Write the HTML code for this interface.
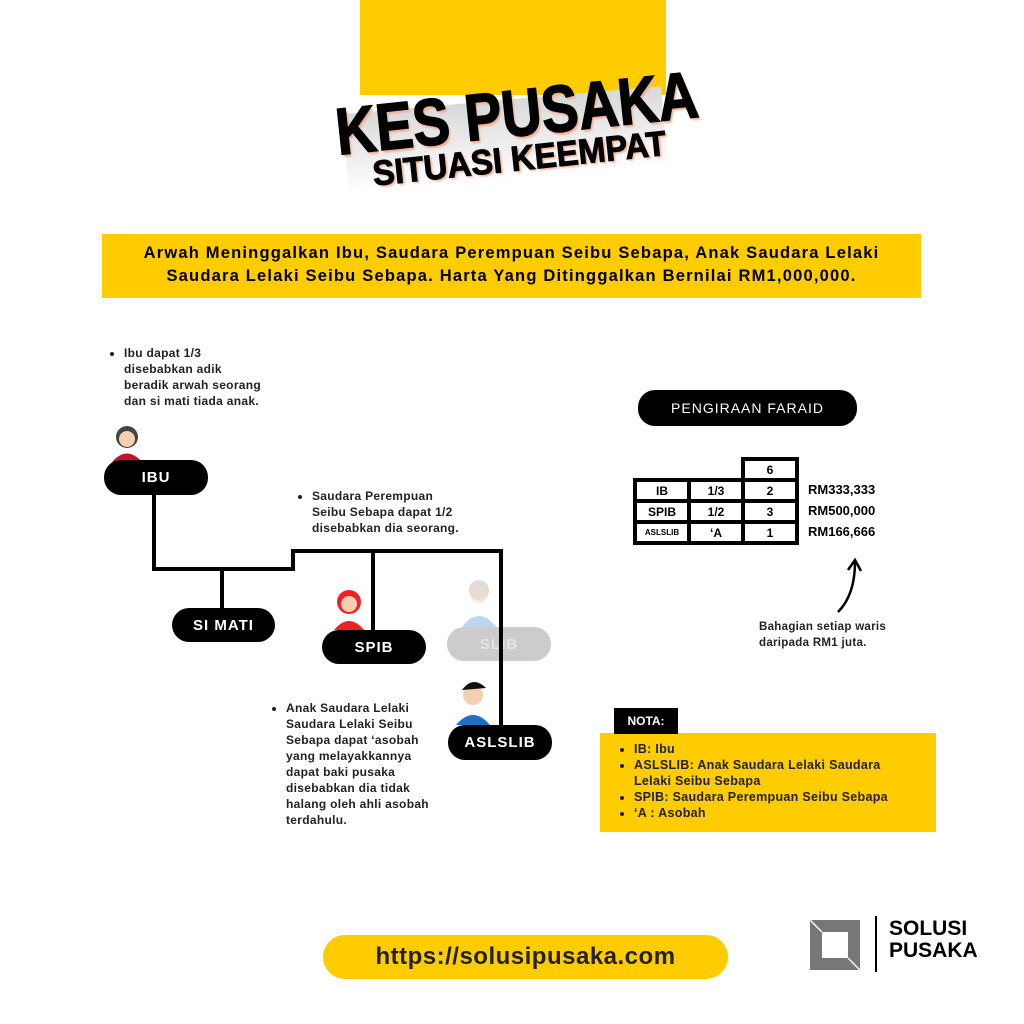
<!DOCTYPE html>
<html><head><meta charset="utf-8"><style>
body{margin:0;width:1024px;height:1024px;background:#fff;position:relative;overflow:hidden;font-family:"Liberation Sans",sans-serif;}
.a{position:absolute}
.pill{position:absolute;background:#000;color:#fff;border-radius:17px;font-weight:bold;font-size:15px;display:flex;align-items:center;justify-content:center;letter-spacing:1px}
.note{position:absolute;font-size:12px;font-weight:bold;line-height:16px;color:#222;white-space:nowrap;letter-spacing:0.3px}
.note ul{margin:0;padding-left:14px}
.cell{position:absolute;background:#fff;border:2px solid #000;box-sizing:border-box;font-size:12px;font-weight:bold;display:flex;align-items:center;justify-content:center}
.amt{position:absolute;font-size:13px;font-weight:bold;left:808px}
</style></head><body>
<div class="a" style="left:360px;top:0;width:306px;height:95px;background:#ffcc00"></div>
<div class="a" style="left:345px;top:100px;width:320px;height:80px;background:linear-gradient(#d8d8d8,#fff);transform:rotate(-5deg)"></div>
<div class="a" style="left:335px;top:76px;width:360px;height:74px;transform:rotate(-6deg);white-space:nowrap;font-weight:900;font-size:66px;line-height:74px;text-shadow:2px 3px 2px #f0b090;-webkit-text-stroke:1.5px #000"><span style="display:inline-block;transform:scaleX(0.84);transform-origin:left">KES PUSAKA</span></div>
<div class="a" style="left:372px;top:138px;width:300px;transform:rotate(-6deg);white-space:nowrap;font-weight:900;font-size:35px;line-height:42px;text-shadow:2px 2px 2px #f0b090;-webkit-text-stroke:1px #000"><span style="display:inline-block;transform:scaleX(0.94);transform-origin:left">SITUASI KEEMPAT</span></div>
<div class="a" style="left:102px;top:234px;width:819px;height:64px;background:#ffcc00;text-align:center;font-weight:bold;font-size:16.5px;line-height:23px;padding-top:8px;box-sizing:border-box;letter-spacing:1.2px;white-space:nowrap">Arwah Meninggalkan Ibu, Saudara Perempuan Seibu Sebapa, Anak Saudara Lelaki<br>Saudara Lelaki Seibu Sebapa. Harta Yang Ditinggalkan Bernilai RM1,000,000.</div>
<div class="note" style="left:110px;top:345px"><ul><li>Ibu dapat 1/3<br>disebabkan adik<br>beradik arwah seorang<br>dan si mati tiada anak.</li></ul></div>
<div class="note" style="left:298px;top:488px"><ul><li>Saudara Perempuan<br>Seibu Sebapa dapat 1/2<br>disebabkan dia seorang.</li></ul></div>
<div class="note" style="left:272px;top:700px"><ul><li>Anak Saudara Lelaki<br>Saudara Lelaki Seibu<br>Sebapa dapat ‘asobah<br>yang melayakkannya<br>dapat baki pusaka<br>disebabkan dia tidak<br>halang oleh ahli asobah<br>terdahulu.</li></ul></div>
<svg class="a" style="left:0;top:0" width="1024" height="1024">
<polyline points="154,495 154,569 293,569 293,551 501,551 501,725" fill="none" stroke="#000" stroke-width="4"/>
<line x1="222" y1="569" x2="222" y2="608" stroke="#000" stroke-width="4"/>
<line x1="373" y1="551" x2="373" y2="630" stroke="#000" stroke-width="4"/>
<circle cx="127" cy="437" r="11" fill="#444"/><circle cx="127" cy="439" r="8" fill="#f5d0b0"/><path d="M112 462 Q127 445 142 462Z" fill="#c8102e"/>
<circle cx="349" cy="602" r="12" fill="#e22"/><circle cx="349" cy="604" r="8" fill="#f5d0b0"/><path d="M334 630 Q349 612 364 630Z" fill="#e22"/>
<circle cx="479" cy="590" r="10" fill="#ddd"/><circle cx="479" cy="594" r="9" fill="#f5dcc8" opacity=".6"/><path d="M462 627 Q479 605 496 627Z" fill="#bcd6ee"/>
<circle cx="473" cy="695" r="10" fill="#f5d0b0"/><path d="M462 690 Q473 675 486 688Z" fill="#111"/><path d="M456 725 Q473 705 490 725Z" fill="#1f6fc4"/>
<path d="M838 612 Q855 595 855 562" fill="none" stroke="#000" stroke-width="2.5"/><path d="M848 570 L855 560 L861 571" fill="none" stroke="#000" stroke-width="2.5"/>
</svg>
<div class="pill" style="left:104px;top:460px;width:104px;height:35px">IBU</div>
<div class="pill" style="left:172px;top:608px;width:103px;height:34px">SI MATI</div>
<div class="pill" style="left:322px;top:630px;width:104px;height:34px">SPIB</div>
<div class="pill" style="left:447px;top:627px;width:104px;height:34px;background:#ccc;color:#e4e4e4">SLIB</div>
<div class="a" style="left:499px;top:627px;width:4px;height:34px;background:#000"></div>
<div class="pill" style="left:448px;top:725px;width:104px;height:35px">ASLSLIB</div>
<div class="pill" style="left:638px;top:390px;width:219px;height:36px;font-weight:normal;font-size:14px">PENGIRAAN FARAID</div>
<div class="a" style="left:633px;top:478px;width:166px;height:67px;background:#000"></div>
<div class="a" style="left:741px;top:457px;width:58px;height:24px;background:#000"></div>
<div class="cell" style="left:743px;top:459px;width:54px;height:21px">6</div>
<div class="cell" style="left:635px;top:480px;width:54px;height:21px">IB</div>
<div class="cell" style="left:689px;top:480px;width:54px;height:21px">1/3</div>
<div class="cell" style="left:743px;top:480px;width:54px;height:21px">2</div>
<div class="cell" style="left:635px;top:501px;width:54px;height:21px">SPIB</div>
<div class="cell" style="left:689px;top:501px;width:54px;height:21px">1/2</div>
<div class="cell" style="left:743px;top:501px;width:54px;height:21px">3</div>
<div class="cell" style="left:635px;top:522px;width:54px;height:21px;font-size:8px">ASLSLIB</div>
<div class="cell" style="left:689px;top:522px;width:54px;height:21px">‘A</div>
<div class="cell" style="left:743px;top:522px;width:54px;height:21px">1</div>
<div class="amt" style="top:482px">RM333,333</div>
<div class="amt" style="top:503px">RM500,000</div>
<div class="amt" style="top:524px">RM166,666</div>
<div class="note" style="left:759px;top:619px;font-size:11.5px">Bahagian setiap waris<br>daripada RM1 juta.</div>
<div class="a" style="left:600px;top:733px;width:336px;height:99px;background:#ffcc00"></div>
<div class="a" style="left:614px;top:708px;width:64px;height:26px;background:#000;color:#fff;font-size:12px;font-weight:bold;display:flex;align-items:center;justify-content:center">NOTA:</div>
<div class="note" style="left:620px;top:741px;font-size:12.5px"><ul><li>IB: Ibu</li><li>ASLSLIB: Anak Saudara Lelaki Saudara<br>Lelaki Seibu Sebapa</li><li>SPIB: Saudara Perempuan Seibu Sebapa</li><li>‘A : Asobah</li></ul></div>
<div class="a" style="left:323px;top:935px;width:405px;height:44px;background:#ffcc00;border-radius:22px;font-weight:bold;font-size:24px;letter-spacing:0.5px;display:flex;align-items:center;justify-content:center;color:#222">https://solusipusaka.com</div>
<svg class="a" style="left:810px;top:918px" width="50" height="52"><rect x="0" y="2" width="50" height="50" fill="#777"/><rect x="12" y="14" width="26" height="26" fill="#fff"/><line x1="0" y1="2" x2="12" y2="14" stroke="#fff" stroke-width="1.5"/><line x1="38" y1="40" x2="50" y2="52" stroke="#fff" stroke-width="1.5"/></svg>
<div class="a" style="left:875px;top:916px;width:2px;height:56px;background:#000"></div>
<div class="a" style="left:889px;top:918px;font-weight:900;font-size:21px;line-height:22px">SOLUSI<br>PUSAKA</div>
</body></html>
